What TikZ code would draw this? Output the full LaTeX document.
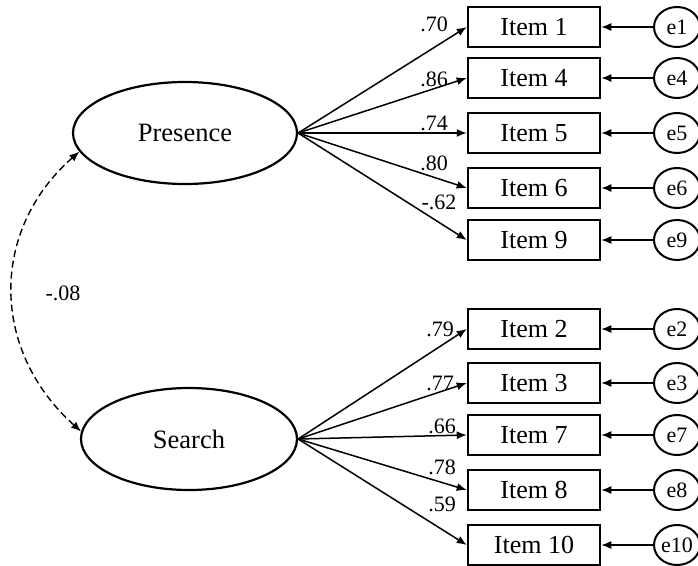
\documentclass[tikz,border=0pt]{standalone}
\usepackage{fontspec}
\setmainfont{Liberation Serif}
\usetikzlibrary{shapes.geometric,arrows.meta}
\begin{document}
\begin{tikzpicture}[x=1pt,y=-1pt,
  latent/.style={ellipse,draw,line width=2.2pt,inner sep=0pt,minimum height=102pt,font=\fontsize{26.5}{30}\selectfont},
  itembox/.style={rectangle,draw,line width=2.5pt,minimum width=132pt,minimum height=40pt,inner sep=0pt,font=\fontsize{26}{30}\selectfont},
  errnode/.style={ellipse,draw,line width=2pt,minimum width=46pt,minimum height=40pt,inner sep=0pt,font=\fontsize{22}{26}\selectfont},
  coef/.style={inner sep=0pt,text depth=0pt,font=\fontsize{22}{26}\selectfont},
  arr/.style={line width=1.5pt,-{Latex[length=10pt,width=8pt]}},
  corr/.style={line width=1.4pt,dash pattern=on 7pt off 4pt,{Latex[length=10pt,width=8pt]}-{Latex[length=10pt,width=8pt]}}
]
\useasboundingbox (0,0) rectangle (698,565);
\fill[white] (0,0) rectangle (698,565);

\node[latent,minimum width=224pt] (pres) at (185,133) {Presence};
\node[latent,minimum width=216pt] (srch) at (189,439) {Search};

% items
\foreach \n/\y in {1/27,4/78,5/133,6/188,9/240,2/329,3/383,7/435,8/490,10/545}{
  \node[itembox] (i\n) at (534,\y) {Item \n};
  \node[errnode] (e\n) at (677,\y) {e\n};
  \draw[arr] (e\n) -- (i\n);
}

\foreach \n in {1,4,5,6,9}{ \draw[arr] (pres.east) -- (i\n.west); }
\foreach \n in {2,3,7,8,10}{ \draw[arr] (srch.east) -- (i\n.west); }

\node[coef] (c1) at (434,24) {.70};
\node[coef] (c4) at (434,79) {.86};
\node[coef] (c5) at (434,123) {.74};
\node[coef] (c6) at (434,163) {.80};
\node[coef] (c9) at (439,202) {-.62};
\node[coef] (c2) at (440,329) {.79};
\node[coef] (c3) at (440,383) {.77};
\node[coef] (c7) at (442,426) {.66};
\node[coef] (c8) at (442,467) {.78};
\node[coef] (c10) at (442,504) {.59};

\draw[corr] (pres.190) .. controls (-10,230) and (-10,350) .. (srch.176);
\node[coef] (cc) at (63,293) {-.08};
\end{tikzpicture}
\end{document}
